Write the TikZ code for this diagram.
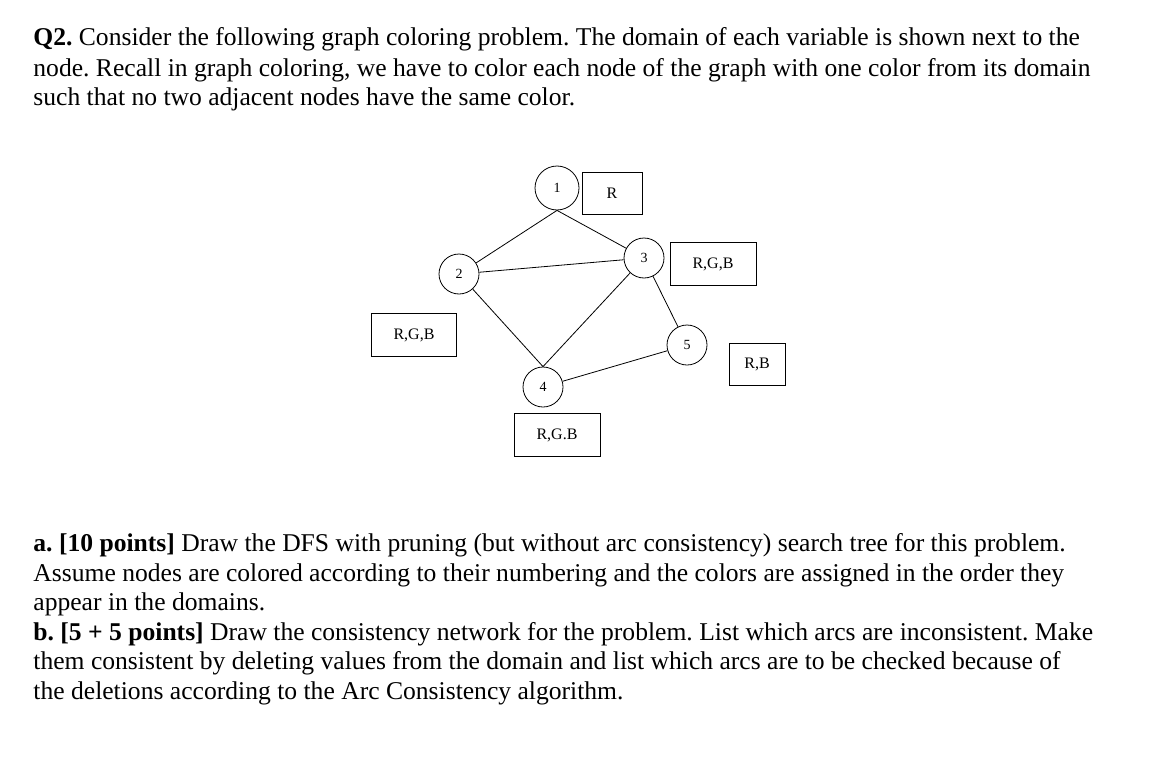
\documentclass[tikz,border=0pt]{standalone}
\usepackage{fontspec}
\setmainfont{Liberation Serif}
\begin{document}
\frenchspacing
\begin{tikzpicture}[x=1pt,y=-1pt,line width=0.8pt,
  txt/.style={anchor=base west,inner sep=0pt,font=\fontsize{25.6}{30}\selectfont},
  vtx/.style={circle,draw,minimum size=40pt,inner sep=0pt,font=\fontsize{14}{16}\selectfont},
  dom/.style={draw,inner sep=0pt,font=\fontsize{16}{18}\selectfont}]
\useasboundingbox (0,0) rectangle (1172,760);
\node[txt] (t1) at (33,46) {\textbf{Q2.} Consider the following graph coloring problem. The domain of each variable is shown next to the};
\node[txt] (t2) at (33,76) {node. Recall in graph coloring, we have to color each node of the graph with one color from its domain};
\node[txt] (t3) at (33,105) {such that no two adjacent nodes have the same color.};
\node[txt] (t4) at (33,551) {\textbf{a. [10 points]} Draw the DFS with pruning (but without arc consistency) search tree for this problem.};
\node[txt] (t5) at (33,581) {Assume nodes are colored according to their numbering and the colors are assigned in the order they};
\node[txt] (t6) at (33,610) {appear in the domains.};
\node[txt] (t7) at (33,640) {\textbf{b. [5 + 5 points]} Draw the consistency network for the problem. List which arcs are inconsistent. Make};
\node[txt] (t8) at (33,669) {them consistent by deleting values from the domain and list which arcs are to be checked because of};
\node[txt] (t9) at (33,699) {the deletions according to the Arc Consistency algorithm.};
\node[vtx,minimum size=44pt] (n1) at (557,188) {1};
\node[vtx] (n2) at (459,274) {2};
\node[vtx] (n3) at (644,258) {3};
\node[vtx] (n4) at (543,387) {4};
\node[vtx] (n5) at (687,345) {5};
\node[dom,minimum width=60pt,minimum height=42pt] (d1) at (612,193) {R};
\node[dom,minimum width=86pt,minimum height=43pt] (d3) at (713,264) {R,G,B};
\node[dom,minimum width=85pt,minimum height=43pt] (d2) at (414,335) {R,G,B};
\node[dom,minimum width=56pt,minimum height=42pt] (d5) at (757,364) {R,B};
\node[dom,minimum width=86pt,minimum height=43pt] (d4) at (557,435) {R,G.B};
\draw (n1.south) -- (n2);
\draw (n1.south) -- (n3);
\draw (n2) -- (n3);
\draw (n2) -- (n4.north);
\draw (n3) -- (n4.north);
\draw (n3) -- (n5);
\draw (n4) -- (n5);
\end{tikzpicture}
\end{document}
